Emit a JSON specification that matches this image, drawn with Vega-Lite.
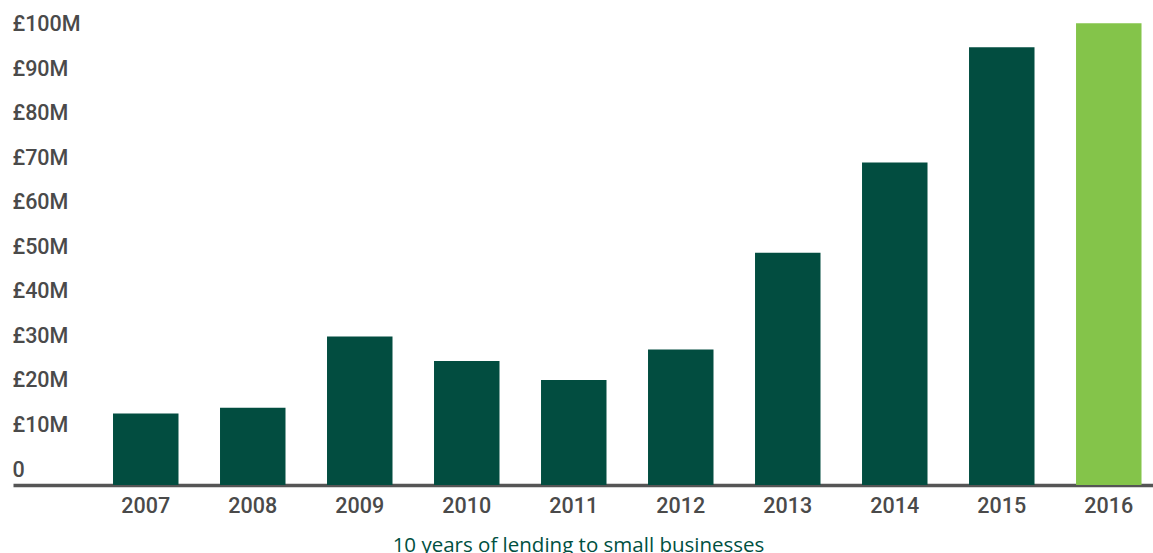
{
  "$schema": "https://vega.github.io/schema/vega-lite/v6.json",
  "autosize": {"type": "none"},
  "padding": {"left": 13, "top": 5, "right": 0, "bottom": 68},
  "width": 1140,
  "height": 480,
  "background": "white",
  "config": {"view": {"stroke": null}},
  "data": {
    "values": [
      {"year": "2007", "lending": 12.7},
      {"year": "2008", "lending": 14.0},
      {"year": "2009", "lending": 30.0},
      {"year": "2010", "lending": 24.5},
      {"year": "2011", "lending": 20.2},
      {"year": "2012", "lending": 27.1},
      {"year": "2013", "lending": 48.8},
      {"year": "2014", "lending": 69.1},
      {"year": "2015", "lending": 95.0},
      {"year": "2016", "lending": 100.4}
    ]
  },
  "mark": {"type": "bar"},
  "encoding": {
    "x": {
      "field": "year",
      "type": "ordinal",
      "sort": null,
      "scale": {"paddingInner": 0.388, "paddingOuter": 0.521, "align": 0.897},
      "axis": {
        "title": "10 years of lending to small businesses",
        "titleFont": "Open Sans",
        "titleFontSize": 20.5,
        "titleFontWeight": "normal",
        "titleColor": "#00503f",
        "titleBaseline": "alphabetic",
        "titleY": 66,
        "titleX": 565,
        "titleAnchor": "middle",
        "labelAngle": 0,
        "labelFont": "Roboto",
        "labelFontSize": 21.5,
        "labelFontWeight": 500,
        "labelColor": "#4a4a4a",
        "labelPadding": 10,
        "ticks": false,
        "domain": true,
        "domainColor": "#555555",
        "domainWidth": 3.5,
        "grid": false
      }
    },
    "y": {
      "field": "lending",
      "type": "quantitative",
      "scale": {"domain": [-3.37, 104.49], "nice": false, "zero": false},
      "axis": {
        "title": null,
        "values": [0, 10, 20, 30, 40, 50, 60, 70, 80, 90, 100],
        "labelExpr": "datum.value === 0 ? '0' : '£' + datum.value + 'M'",
        "labelAlign": "left",
        "labelPadding": 1,
        "labelFont": "Roboto",
        "labelFontSize": 21.5,
        "labelFontWeight": 500,
        "labelColor": "#4a4a4a",
        "ticks": false,
        "domain": false,
        "grid": false
      }
    },
    "y2": {"datum": -3.37},
    "color": {
      "condition": {"test": "datum.year === '2016'", "value": "#84c44a"},
      "value": "#024d40"
    }
  }
}
